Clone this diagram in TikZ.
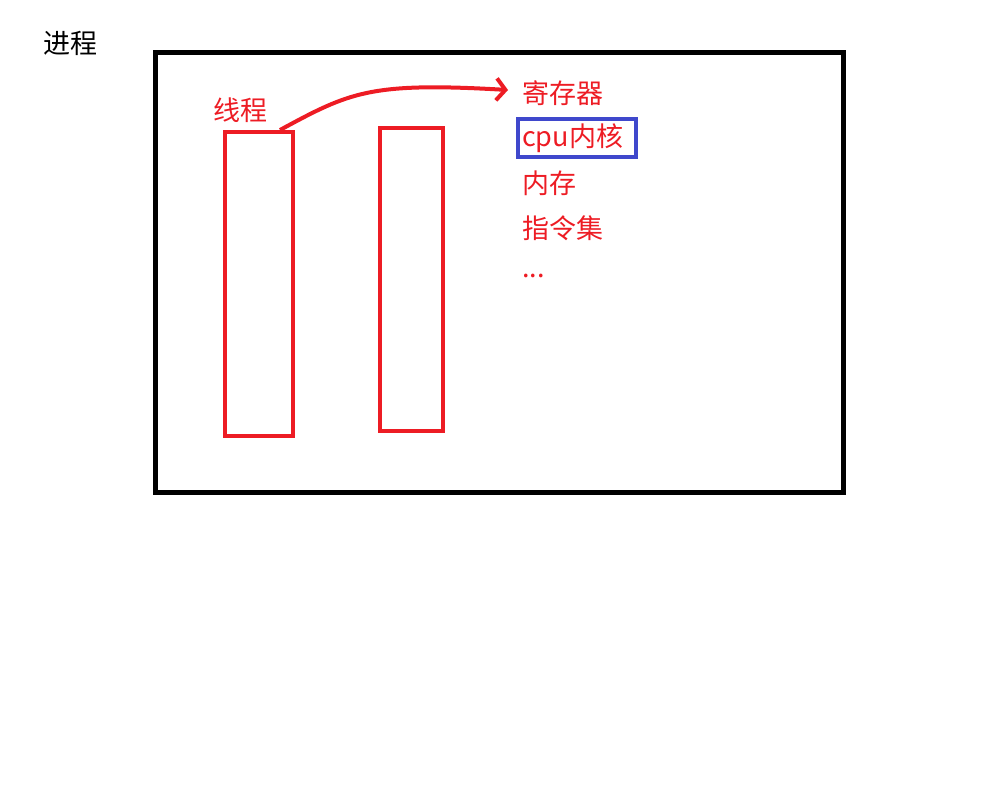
\documentclass[tikz,border=0pt]{standalone}
\usepackage{fontspec}
\setmainfont{Noto Sans CJK SC}
\usepackage{xcolor}
\usetikzlibrary{arrows.meta}
\definecolor{pred}{HTML}{ED1C24}
\definecolor{pblue}{HTML}{3F48CC}
\tikzset{
  redbox/.style={draw=pred, line width=4pt},
  redtext/.style={text=pred, font=\fontsize{27}{32}\selectfont, inner sep=0pt, anchor=west},
}

\begin{document}
\begin{tikzpicture}[x=1pt,y=-1pt]
\useasboundingbox (0,0) rectangle (1000,798);
\node[font=\fontsize{27}{32}\selectfont, inner sep=0pt, anchor=west] (proc) at (43,43) {进程};
\draw[line width=5pt] (155,52) rectangle (843,492);

\node[redtext] (thr) at (213,110) {线程};
\draw[redbox] (225,132) rectangle (293,436);
\draw[redbox] (380,128) rectangle (443,431);

\node[redtext] (reg) at (522,93) {寄存器};
\node[redtext] (cpu) at (522,138) {cpu内核};
\draw[pblue, line width=4pt] ([xshift=-4pt,yshift=19pt]cpu.west) rectangle ([xshift=13pt,yshift=-19pt]cpu.east);
\node[redtext] (mem) at (522,183) {内存};
\node[redtext] (ins) at (522,228) {指令集};
\node[redtext] (dots) at (522,276) {...};

\coordinate (start) at (280,130);
\draw[pred, line width=4pt, -{Straight Barb[length=9pt,width=22pt]}]
  (start) .. controls (350,92) and (370,82) .. ([xshift=-14pt,yshift=3pt]reg.west);
\end{tikzpicture}
\end{document}
